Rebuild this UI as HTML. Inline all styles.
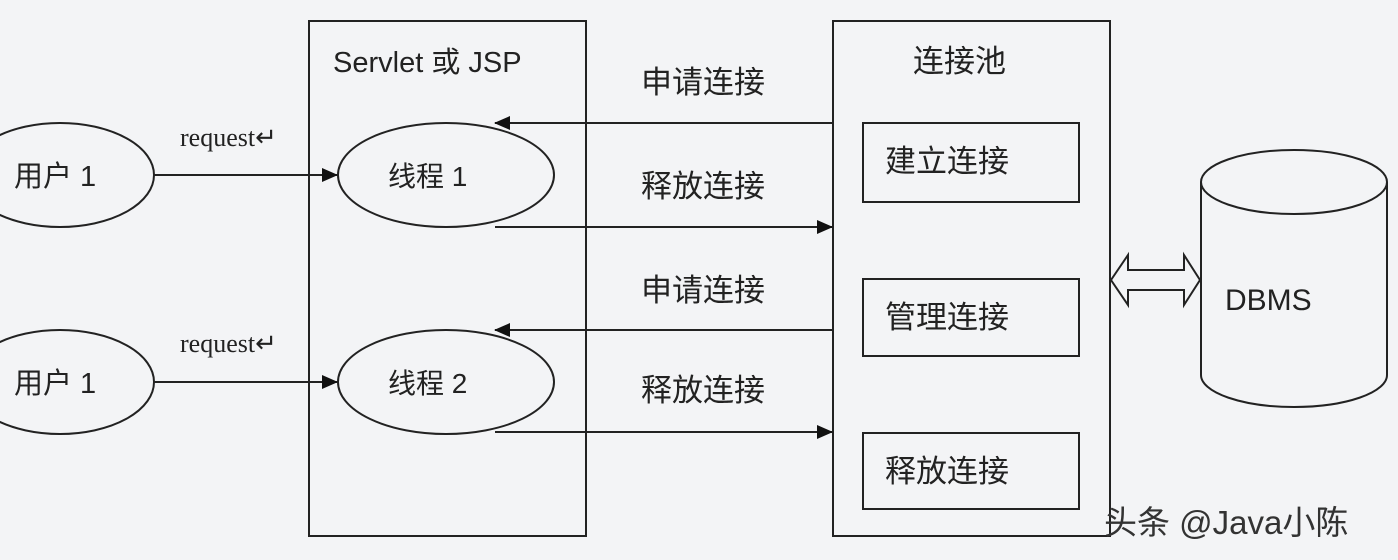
<!DOCTYPE html>
<html><head><meta charset="utf-8"><style>
html,body{margin:0;padding:0;background:#f3f4f6;}
svg{display:block}
text{font-family:"Liberation Serif","Noto Serif CJK SC",serif;fill:#222}
.c{font-family:"Liberation Sans","Noto Sans CJK SC",sans-serif}
</style></head><body>
<svg width="1398" height="560" viewBox="0 0 1398 560" xmlns="http://www.w3.org/2000/svg">
<defs><marker id="a" markerWidth="16" markerHeight="14" refX="15" refY="7" orient="auto" markerUnits="userSpaceOnUse"><path d="M0,0 L16,7 L0,14 Z" fill="#111"/></marker></defs>
<rect x="0" y="0" width="1398" height="560" fill="#f3f4f6"/>
<g stroke="#222" stroke-width="2" fill="none">
<rect x="309" y="21" width="277" height="515"/>
<rect x="833" y="21" width="277" height="515"/>
<rect x="863" y="123" width="216" height="79"/>
<rect x="863" y="279" width="216" height="77"/>
<rect x="863" y="433" width="216" height="76"/>
<ellipse cx="60" cy="175" rx="94" ry="52"/>
<ellipse cx="60" cy="382" rx="94" ry="52"/>
<ellipse cx="446" cy="175" rx="108" ry="52"/>
<ellipse cx="446" cy="382" rx="108" ry="52"/>
<line x1="154" y1="175" x2="337" y2="175" marker-end="url(#a)"/>
<line x1="154" y1="382" x2="337" y2="382" marker-end="url(#a)"/>
<line x1="833" y1="123" x2="495" y2="123" marker-end="url(#a)"/>
<line x1="495" y1="227" x2="832" y2="227" marker-end="url(#a)"/>
<line x1="833" y1="330" x2="495" y2="330" marker-end="url(#a)"/>
<line x1="495" y1="432" x2="832" y2="432" marker-end="url(#a)"/>
<path d="M1201,182 L1201,375 A93,32 0 0 0 1387,375 L1387,182"/>
<ellipse cx="1294" cy="182" rx="93" ry="32"/>
<path d="M1111,280 L1128,255 L1128,270 L1184,270 L1184,255 L1200,280 L1184,305 L1184,290 L1128,290 L1128,305 Z"/>
</g>
<g class="c">
<text x="14" y="186" class="c" font-size="29">用户 1</text>
<text x="14" y="393" class="c" font-size="29">用户 1</text>
<text x="388" y="186" class="c" font-size="28">线程 1</text>
<text x="388" y="393" class="c" font-size="28">线程 2</text>
<text x="333" y="72" class="c" font-size="29">Servlet 或 JSP</text>
<text x="913" y="72" class="c" font-size="31">连接池</text>
<text x="641" y="93" class="c" font-size="31">申请连接</text>
<text x="641" y="197" class="c" font-size="31">释放连接</text>
<text x="641" y="301" class="c" font-size="31">申请连接</text>
<text x="641" y="401" class="c" font-size="31">释放连接</text>
<text x="885" y="172" class="c" font-size="31">建立连接</text>
<text x="885" y="328" class="c" font-size="31">管理连接</text>
<text x="885" y="482" class="c" font-size="31">释放连接</text>
<text x="1225" y="310" class="c" font-size="30">DBMS</text>
</g>
<text x="180" y="146" font-size="26">request↵</text>
<text x="180" y="352" font-size="26">request↵</text>
<text x="1104" y="534" class="c" font-size="33" style="fill:#333">头条 @Java小陈</text>
</svg>
</body></html>
